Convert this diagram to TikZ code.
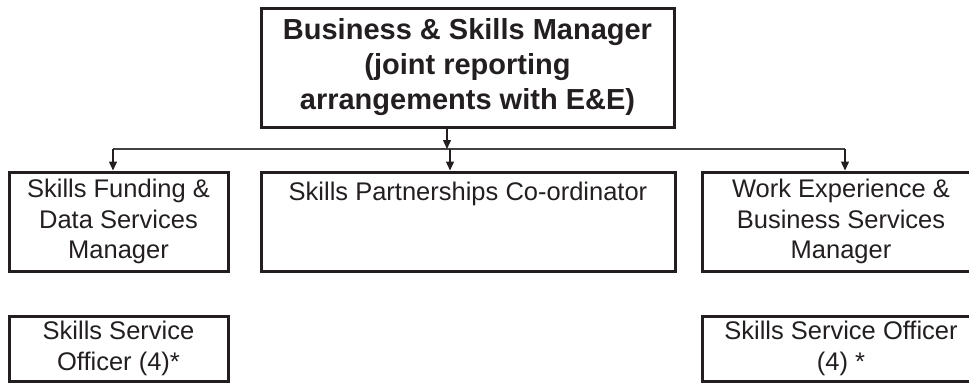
\documentclass[tikz,border=0pt]{standalone}
\usepackage{fontspec}
\setmainfont{Liberation Sans}
\usetikzlibrary{arrows.meta}
\definecolor{ink}{RGB}{35,31,32}
\begin{document}
\begin{tikzpicture}[x=1pt,y=-1pt,
    post/.style={draw=ink,text=ink,line width=3pt,align=center,inner sep=0pt,
        font=\fontsize{25.5}{30.5}\selectfont},
    head/.style={post,font=\bfseries\fontsize{29}{35}\selectfont},
    feed/.style={ink,line width=1.4pt,-{Triangle[width=8pt,length=9pt]}}]
                \clip (0,0) rectangle (969,383);
                %% top
                \node[head,minimum width=413,minimum height=119] (boss) at (467.5,67.5)
                    {Business \& Skills Manager\\(joint reporting\\arrangements with E\&E)};
                %% middle row
                \node[post,minimum width=219,minimum height=99] (fund) at (118.5,221.5)
                    {Skills Funding \&\\Data Services\\Manager};
                \node[post,minimum width=414,minimum height=99] (part) at (468,221.5)
                    {Skills Partnerships Co-ordinator\\\mbox{}\\\mbox{}};
                \node[post,minimum width=278,minimum height=99] (work) at (841,221.5)
                    {Work Experience \&\\Business Services\\Manager};
                %% bottom row
                \node[post,minimum width=219,minimum height=65] (ssoa) at (118.5,348.5)
                    {Skills Service\\Officer (4)*};
                \node[post,minimum width=278,minimum height=65] (ssob) at (841,348.5)
                    {Skills Service Officer\\(4) *};
                %% bar
                \coordinate (barl) at (113,149);
                \coordinate (barr) at (845,149);
                \coordinate (barm) at (450,149);
                \draw[ink!85,line width=1.2pt] (barl) -- (barr);
                \draw[feed] ([xshift=-20.5]boss.south) -- ([xshift=-20.5]boss.south |- barm);
                \draw[feed] (barl) -- (barl |- fund.north);
                \draw[feed] (barm) -- (barm |- part.north);
                \draw[feed] (barr) -- (barr |- work.north);
\end{tikzpicture}
\end{document}
